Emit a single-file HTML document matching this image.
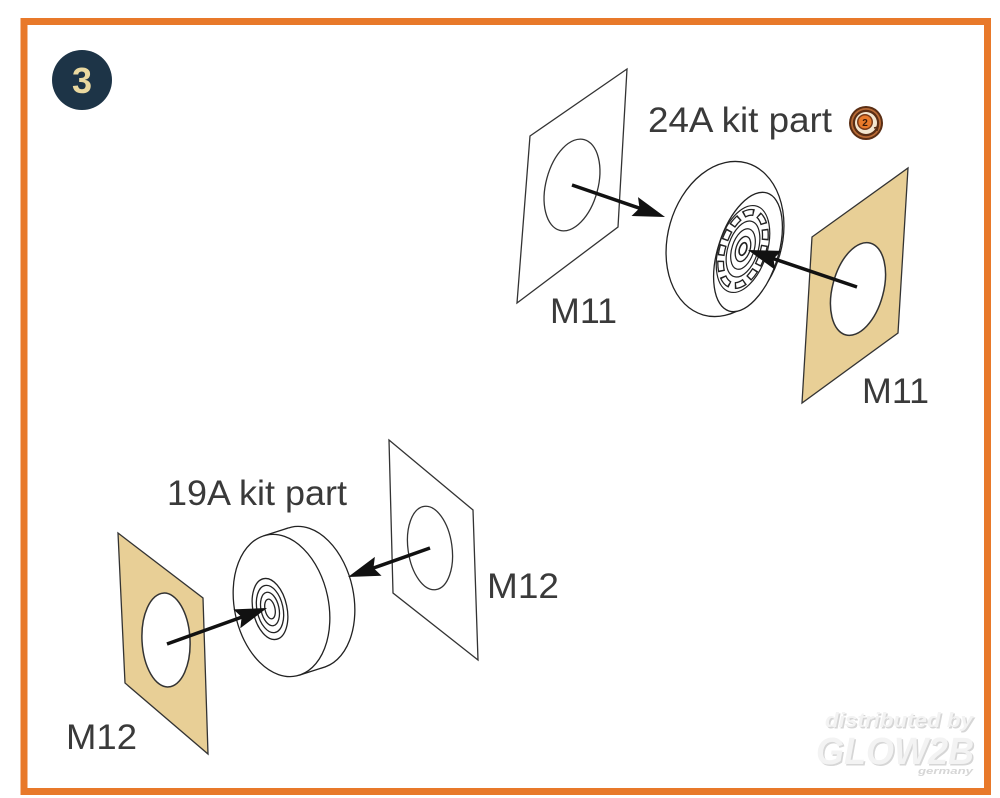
<!DOCTYPE html>
<html>
<head>
<meta charset="utf-8">
<style>
html,body{margin:0;padding:0;background:#fff;}
svg{display:block}
</style>
</head>
<body>
<svg width="1000" height="798" viewBox="0 0 1000 798" xmlns="http://www.w3.org/2000/svg" font-family="'Liberation Sans', sans-serif">
  <defs>
    <marker id="ah" markerUnits="userSpaceOnUse" markerWidth="40" markerHeight="30" refX="0" refY="0" orient="auto" overflow="visible">
      <path d="M18,0 L-14,-10 L-9,0 L-14,10 Z" fill="#111"/>
    </marker>
  </defs>

  <rect x="0" y="0" width="1000" height="798" fill="#fff"/>
  <!-- orange frame -->
  <rect x="24" y="21.5" width="963.5" height="770" fill="none" stroke="#E8792A" stroke-width="7"/>

  <!-- step badge -->
  <circle cx="82" cy="80" r="30" fill="#1d3447"/>
  <text x="82" y="93" font-size="36" font-weight="bold" fill="#ead9a0" text-anchor="middle">3</text>

  <!-- ===== TOP GROUP ===== -->
  <polygon points="530,136 627,69 618,227 517,303" fill="#fff" stroke="#333" stroke-width="1.3"/>
  <ellipse cx="572" cy="185" rx="26" ry="47" transform="rotate(15 572 185)" fill="#fff" stroke="#333" stroke-width="1.3"/>

  <polygon points="812,237 908,168 898,333 802,403" fill="#E8CF96" stroke="#333" stroke-width="1.3"/>
  <ellipse cx="858" cy="289" rx="25.5" ry="47.5" transform="rotate(15 858 289)" fill="#fff" stroke="#333" stroke-width="1.5"/>

  <!-- wheel 24A -->
  <ellipse cx="725" cy="239" rx="57" ry="79" transform="rotate(16 725 239)" fill="#fff" stroke="#222" stroke-width="1.3"/>
  <ellipse cx="748" cy="252" rx="30" ry="62" transform="rotate(18 748 252)" fill="#fff" stroke="#222" stroke-width="1.3"/>
  <g transform="rotate(18 743 249)" fill="none">
    <ellipse cx="743" cy="249" rx="24" ry="45" stroke="#222" stroke-width="1.2"/>
    <ellipse cx="743" cy="249" rx="20" ry="38" stroke="#222" stroke-width="7" stroke-dasharray="11 5"/>
    <ellipse cx="743" cy="249" rx="20" ry="38" stroke="#fff" stroke-width="4.4" stroke-dasharray="8 8" stroke-dashoffset="-1.5"/>
    <ellipse cx="743" cy="249" rx="15" ry="29" stroke="#222" stroke-width="1.2"/>
    <ellipse cx="743" cy="249" rx="11" ry="21" stroke="#222" stroke-width="1.2"/>
    <ellipse cx="743" cy="249" rx="7" ry="13" stroke="#222" stroke-width="1.3"/>
    <ellipse cx="743" cy="249" rx="3.5" ry="6.5" stroke="#222" stroke-width="1.6"/>
  </g>

  <path d="M572,185 L648,211.1" stroke="#111" stroke-width="3.5" marker-end="url(#ah)"/>
  <path d="M857,287 L765,255.8" stroke="#111" stroke-width="3.5" marker-end="url(#ah)"/>

  <text x="648" y="132" font-size="35" fill="#3a3a3a" textLength="184" lengthAdjust="spacingAndGlyphs">24A kit part</text>
  <text x="550" y="323" font-size="35" fill="#3a3a3a" textLength="67" lengthAdjust="spacingAndGlyphs">M11</text>
  <text x="862" y="403" font-size="35" fill="#3a3a3a" textLength="67" lengthAdjust="spacingAndGlyphs">M11</text>

  <!-- small badge -->
  <circle cx="866" cy="123" r="17" fill="#5a2e14"/>
  <circle cx="866" cy="123" r="15" fill="#b86a35"/>
  <circle cx="866" cy="123" r="13.2" fill="#5a2e14"/>
  <circle cx="866" cy="123" r="11" fill="#f3e6cf"/>
  <circle cx="865" cy="122" r="8" fill="#7a3a18"/>
  <circle cx="865" cy="122" r="6.5" fill="#e87a2a"/>
  <text x="865" y="126" font-size="10" font-weight="bold" fill="#3a1a08" text-anchor="middle">2</text>
  <path d="M874,128 l4,-1 l-1,4" fill="none" stroke="#5a2e14" stroke-width="1.5"/>

  <!-- ===== BOTTOM GROUP ===== -->
  <polygon points="389,440 473,510 478,660 393,593" fill="#fff" stroke="#333" stroke-width="1.3"/>
  <ellipse cx="430" cy="548" rx="22" ry="42" transform="rotate(-8 430 548)" fill="#fff" stroke="#333" stroke-width="1.3"/>

  <polygon points="118,533 203,598 208,754 125,683" fill="#E8CF96" stroke="#333" stroke-width="1.3"/>
  <ellipse cx="166" cy="640" rx="24" ry="47" transform="rotate(-3 166 640)" fill="#fff" stroke="#333" stroke-width="1.5"/>

  <!-- wheel 19A -->
  <ellipse cx="306.5" cy="597.5" rx="47" ry="72" transform="rotate(-12 306.5 597.5)" fill="#fff" stroke="#222" stroke-width="1.3"/>
  <polygon points="263.6,535.9 288.6,527.9 324.4,667.1 299.4,675.1" fill="#fff"/>
  <line x1="263.6" y1="535.9" x2="288.6" y2="527.9" stroke="#222" stroke-width="1.3"/>
  <line x1="299.4" y1="675.1" x2="324.4" y2="667.1" stroke="#222" stroke-width="1.3"/>
  <ellipse cx="281.5" cy="605.5" rx="47" ry="72" transform="rotate(-12 281.5 605.5)" fill="#fff" stroke="#222" stroke-width="1.3"/>
  <g transform="rotate(-12 270 609)" fill="none" stroke="#222" stroke-width="1.3">
    <ellipse cx="270" cy="609" rx="17" ry="31"/>
    <ellipse cx="270" cy="609" rx="13" ry="24"/>
    <ellipse cx="270" cy="609" rx="9" ry="17"/>
    <ellipse cx="270" cy="609" rx="5" ry="10"/>
  </g>

  <path d="M430,548 L365,571" stroke="#111" stroke-width="3.5" marker-end="url(#ah)"/>
  <path d="M167,644 L250.1,614.1" stroke="#111" stroke-width="3.5" marker-end="url(#ah)"/>

  <text x="167" y="505" font-size="35" fill="#3a3a3a" textLength="180" lengthAdjust="spacingAndGlyphs">19A kit part</text>
  <text x="487" y="598" font-size="35" fill="#3a3a3a" textLength="72" lengthAdjust="spacingAndGlyphs">M12</text>
  <text x="66" y="749" font-size="35" fill="#3a3a3a" textLength="71" lengthAdjust="spacingAndGlyphs">M12</text>

  <!-- watermark -->
  <g font-style="italic" font-weight="bold">
    <text x="826.5" y="728.5" font-size="20" fill="#d6d6d6" textLength="148" lengthAdjust="spacingAndGlyphs">distributed by</text>
    <text x="825" y="727" font-size="20" fill="#f3f3f3" textLength="148" lengthAdjust="spacingAndGlyphs">distributed by</text>
    <text x="817.5" y="765.5" font-size="38" fill="#d6d6d6" textLength="158" lengthAdjust="spacingAndGlyphs">GLOW2B</text>
    <text x="816" y="764" font-size="38" fill="#f3f3f3" textLength="158" lengthAdjust="spacingAndGlyphs">GLOW2B</text>
    <text x="918" y="774" font-size="9" fill="#d6d6d6" textLength="55" lengthAdjust="spacingAndGlyphs">germany</text>
  </g>
</svg>
</body>
</html>
